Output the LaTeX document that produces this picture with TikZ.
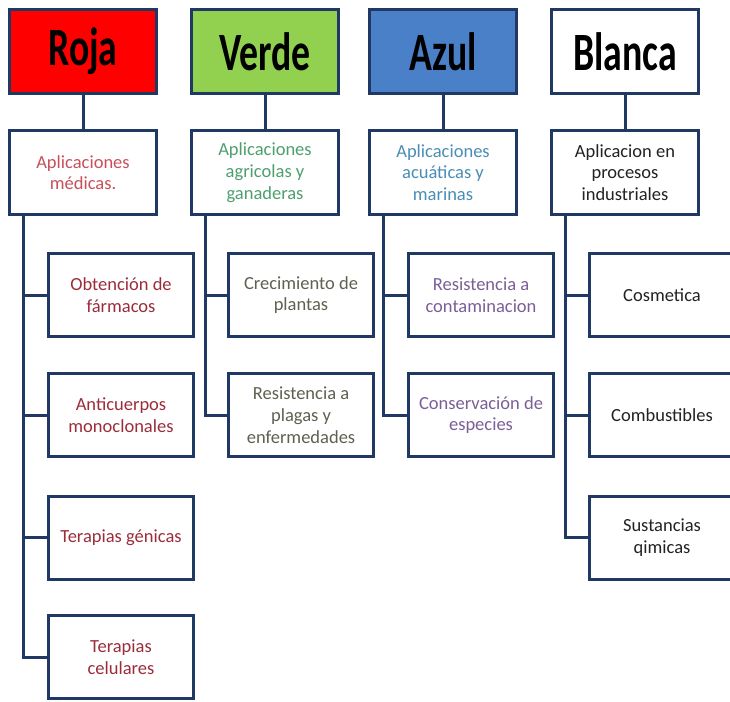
\documentclass[tikz,border=0pt]{standalone}
\usepackage{fontspec}
\setmainfont{Carlito}
\newfontfamily\titulo[FakeStretch=0.7]{Carlito}
\definecolor{marco}{HTML}{1F3864}
\definecolor{rojo}{HTML}{FF0000}
\definecolor{verde}{HTML}{92D050}
\definecolor{azul}{HTML}{4A80C8}
\definecolor{rojoT}{HTML}{C8505A}
\definecolor{rojoH}{HTML}{9B2D3A}
\definecolor{verdeT}{HTML}{4E9F6E}
\definecolor{verdeH}{HTML}{5E6150}
\definecolor{azulT}{HTML}{4A8DB5}
\definecolor{azulH}{HTML}{7B5E96}
\definecolor{negro}{HTML}{222222}

\begin{document}
\begin{tikzpicture}[x=1pt,y=-1pt,
  caja/.style={draw=marco,fill=white,line width=3pt,minimum width=147pt,minimum height=84pt,inner sep=2pt,align=center,font=\fontsize{18.5}{21.7}\selectfont},
  jefe/.style={caja,font=\titulo\bfseries\fontsize{54}{60}\selectfont},
  hijo/.style={caja,minimum width=145pt,minimum height=83pt},
  conector/.style={draw=marco,line width=3pt}]
  \useasboundingbox[fill=white] (0,0) rectangle (730,701);
  \clip (0,0) rectangle (730,701);
  % biotecnologia roja
  \node[jefe,fill=rojo] (roja) at (83,51.5){Roja};
  \node[caja,text=rojoT] (rs) at (83,172.5){Aplicaciones\\médicas.};
  \draw[conector] (roja) -- (rs);
  \foreach \y/\t [count=\i] in {295/{Obtención de\\fármacos},415/{Anticuerpos\\monoclonales},537.5/{Terapias génicas},657/{Terapias\\celulares}}{
    \node[hijo,text=rojoH] (r\i) at (121,\y){\t};
    \draw[conector] ([xshift=15.5pt]rs.south west) |- (r\i.west);}
  % biotecnologia verde
  \node[jefe,fill=verde] (verde) at (265,51.5){Verde};
  \node[caja,text=verdeT] (vs) at (265,172.5){Aplicaciones\\agricolas y\\ganaderas};
  \draw[conector] (verde) -- (vs);
  \foreach \y/\t [count=\i] in {295/{Crecimiento de\\plantas},415/{Resistencia a\\plagas y\\enfermedades}}{
    \node[hijo,text=verdeH] (v\i) at (301,\y){\t};
    \draw[conector] ([xshift=15pt]vs.south west) |- (v\i.west);}
  % biotecnologia azul
  \node[jefe,fill=azul] (azul) at (443,51.5){Azul};
  \node[caja,text=azulT] (as) at (443,172.5){Aplicaciones\\acuáticas y\\marinas};
  \draw[conector] (azul) -- (as);
  \foreach \y/\t [count=\i] in {295/{Resistencia a\\contaminacion},415/{Conservación de\\especies}}{
    \node[hijo,text=azulH] (a\i) at (481,\y){\t};
    \draw[conector] ([xshift=15pt]as.south west) |- (a\i.west);}
  % biotecnologia blanca
  \node[jefe] (blanca) at (625,51.5){Blanca};
  \node[caja,text=negro] (bs) at (625,172.5){Aplicacion en\\procesos\\industriales};
  \draw[conector] (blanca) -- (bs);
  \foreach \y/\t [count=\i] in {295/{Cosmetica},415/{Combustibles},537.5/{Sustancias\\qimicas}}{
    \node[hijo,text=negro] (b\i) at (662,\y){\t};
    \draw[conector] ([xshift=15pt]bs.south west) |- (b\i.west);}
\end{tikzpicture}
\end{document}
